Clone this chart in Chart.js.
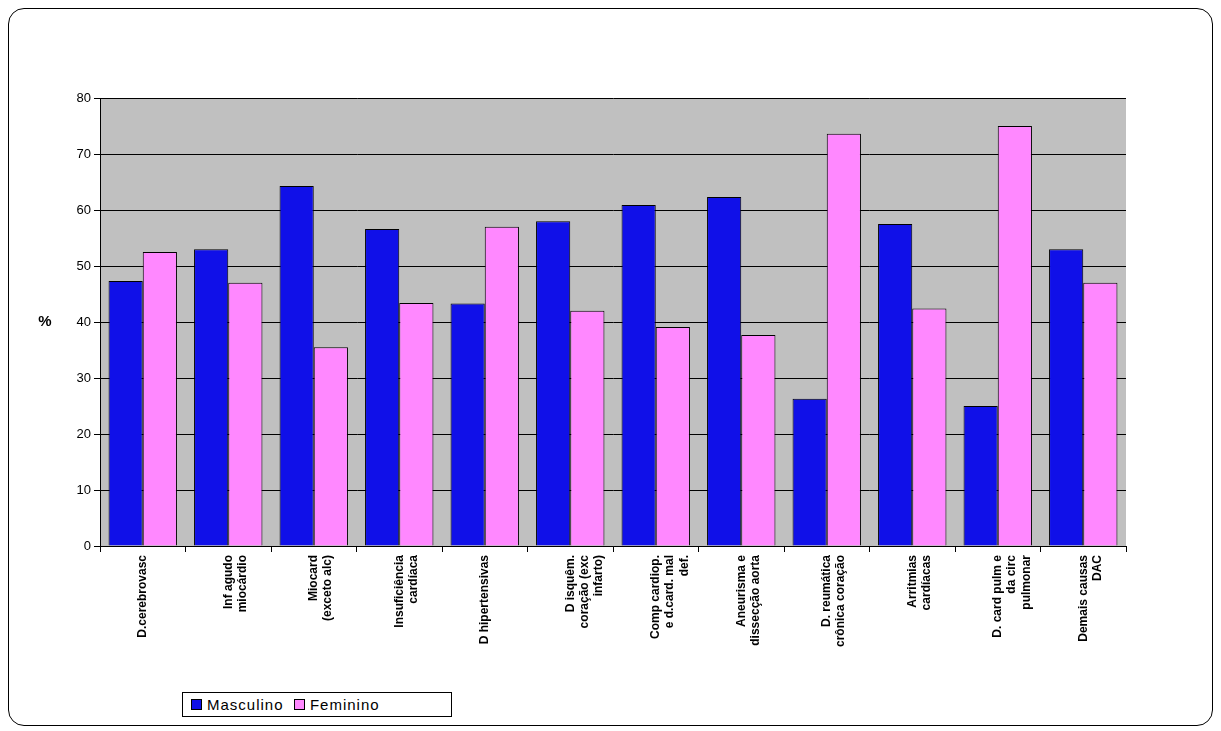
<!DOCTYPE html>
<html lang="pt">
<head>
<meta charset="UTF-8" />
<title>Masculino x Feminino</title>
<script src="https://cdn.jsdelivr.net/npm/chart.js"></script>
<style>
  html, body { margin: 0; padding: 0; background: #fff; }
  #wrap { position: relative; width: 1221px; height: 731px; }
  #frame { position: absolute; left: 8px; top: 8px; width: 1205px; height: 718px;
    border: 1px solid #000; border-radius: 16px; box-sizing: border-box; }
  #legend { position: absolute; left: 182px; top: 692px; width: 270px; height: 25px;
    border: 1px solid #000; background: #fff; box-sizing: border-box;
    font: 15px 'Liberation Sans', Arial, sans-serif; letter-spacing: 1px;
    display: flex; align-items: center; padding-left: 8px; }
  .sw { display: inline-block; width: 9px; height: 9px; border: 1px solid #000; margin-right: 5px; }
</style>
</head>
<body>
<div id="wrap">
  <div id="frame"></div>
  <canvas id="c" width="1221" height="731"></canvas>
  <div id="legend">
    <span class="sw" style="background:#1010e8"></span>Masculino&nbsp;&nbsp;
    <span class="sw" style="background:#ff88ff"></span>Feminino
  </div>
</div>
<script>
  // categories and values (%)
  const categories = [
    ["D.cerebrovasc"],
    ["Inf agudo", "miocárdio"],
    ["Miocard", "(exceto alc)"],
    ["Insuficiência", "cardíaca"],
    ["D hipertensivas"],
    ["D isquêm.", "coração (exc", "infarto)"],
    ["Comp cardiop.", "e d.card. mal", "def."],
    ["Aneurisma e", "dissecção aorta"],
    ["D. reumática", "crônica coração"],
    ["Arritmias", "cardíacas"],
    ["D. card pulm e", "da circ", "pulmonar"],
    ["Demais causas", "DAC"]
  ];
  const masculino = [47.3, 53.0, 64.3, 56.6, 43.3, 58.0, 60.9, 62.3, 26.3, 57.5, 25.0, 53.0];
  const feminino = [52.5, 47.0, 35.5, 43.4, 57.0, 42.0, 39.1, 37.7, 73.6, 42.4, 75.0, 47.0];

  const grayBg = {
    id: 'grayBg',
    beforeDraw(chart) {
      const a = chart.chartArea, ctx = chart.ctx;
      ctx.save();
      ctx.fillStyle = '#c0c0c0';
      ctx.fillRect(a.left, a.top, a.right - a.left, a.bottom - a.top);
      ctx.restore();
    },
    afterDraw(chart) {
      // unrotated "%" axis title, like the original
      const a = chart.chartArea, ctx = chart.ctx;
      ctx.save();
      ctx.fillStyle = '#000';
      ctx.font = "bold 15px 'Liberation Sans', Arial, sans-serif";
      ctx.textAlign = 'center';
      ctx.textBaseline = 'middle';
      ctx.fillText('%', 45, (a.top + a.bottom) / 2);
      ctx.restore();
    }
  };

  new Chart(document.getElementById('c'), {
    type: 'bar',
    data: {
      labels: categories,
      datasets: [
        { label: 'Masculino', data: masculino, backgroundColor: '#1010e8', borderColor: '#000', borderWidth: 1 },
        { label: 'Feminino', data: feminino, backgroundColor: '#ff88ff', borderColor: '#000', borderWidth: 1 }
      ]
    },
    options: {
      responsive: false,
      animation: false,
      layout: { padding: { left: 0, top: 98, right: 95, bottom: 0 } },
      plugins: { legend: { display: false }, tooltip: { enabled: false } },
      datasets: { bar: { categoryPercentage: 0.8, barPercentage: 1.0 } },
      scales: {
        x: {
          offset: true,
          grid: { display: true, drawOnChartArea: false, offset: true, color: '#000', tickLength: 6 },
          border: { color: '#000' },
          ticks: {
            color: '#000', maxRotation: 90, minRotation: 90, autoSkip: false,
            font: { family: "'Liberation Sans', Arial, sans-serif", size: 12, weight: 'bold' }
          },
          afterFit(s) { s.height = 185; }
        },
        y: {
          min: 0, max: 80,
          ticks: { stepSize: 10, color: '#000', font: { family: "'Liberation Sans', Arial, sans-serif", size: 13 } },
          grid: { color: '#000', tickLength: 6 },
          border: { color: '#000' },
          afterFit(s) { s.width = 100; }
        }
      }
    },
    plugins: [grayBg]
  });
</script>
</body>
</html>
